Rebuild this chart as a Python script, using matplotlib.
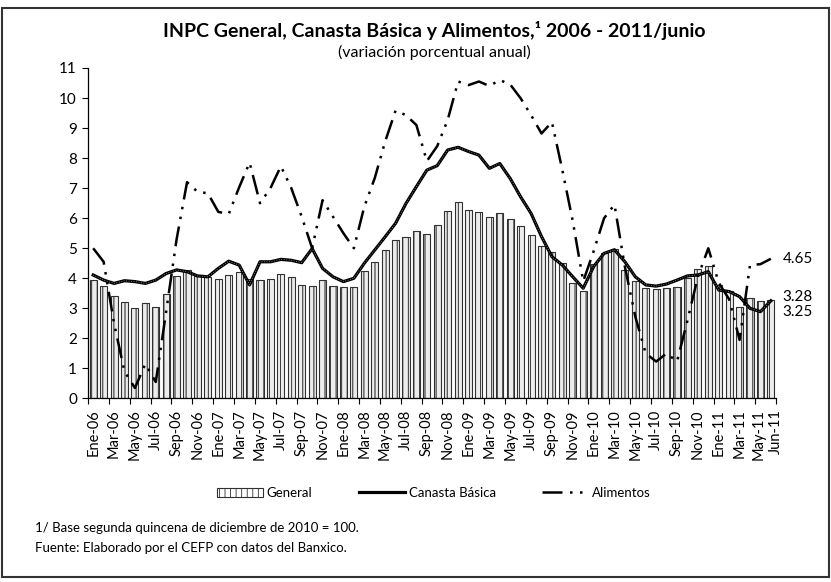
import numpy as np
import matplotlib
matplotlib.use("Agg")
import matplotlib.pyplot as plt
from matplotlib.patches import Rectangle
from matplotlib.transforms import ScaledTranslation

plt.rcParams['font.family'] = ['Lato', 'DejaVu Sans']

# meses Ene-06 .. Jun-11
meses = ["Ene", "Feb", "Mar", "Abr", "May", "Jun", "Jul", "Ago", "Sep", "Oct", "Nov", "Dic"]
etiquetas = [f"{m}-{a:02d}" for a in range(6, 12) for m in meses][:66]

general = [3.94, 3.75, 3.41, 3.20, 3.00, 3.18, 3.06, 3.47, 4.09, 4.29, 4.09, 4.05,
           3.98, 4.11, 4.21, 3.99, 3.95, 3.98, 4.14, 4.03, 3.79, 3.74, 3.93, 3.76,
           3.70, 3.72, 4.25, 4.55, 4.95, 5.26, 5.39, 5.57, 5.47, 5.78, 6.23, 6.53,
           6.28, 6.20, 6.04, 6.17, 5.98, 5.74, 5.44, 5.08, 4.89, 4.50, 3.86, 3.57,
           4.46, 4.83, 4.97, 4.27, 3.92, 3.69, 3.64, 3.68, 3.70, 4.02, 4.32, 4.40,
           3.78, 3.57, 3.04, 3.36, 3.25, 3.28]

canasta = [4.11, 3.94, 3.83, 3.92, 3.89, 3.83, 3.94, 4.16, 4.28, 4.22, 4.08, 4.05,
           4.33, 4.57, 4.44, 3.78, 4.55, 4.55, 4.63, 4.60, 4.52, 4.99, 4.33, 4.05,
           3.89, 4.00, 4.50, 4.94, 5.38, 5.83, 6.49, 7.05, 7.60, 7.75, 8.27, 8.36,
           8.22, 8.10, 7.66, 7.82, 7.32, 6.71, 6.16, 5.39, 4.72, 4.44, 4.05, 3.67,
           4.39, 4.83, 4.95, 4.55, 4.05, 3.78, 3.74, 3.81, 3.94, 4.08, 4.11, 4.22,
           3.61, 3.56, 3.39, 3.00, 2.89, 3.25]

alimentos = [5.00, 4.55, 2.50, 0.90, 0.35, 1.15, 0.55, 2.90, 5.30, 7.20, 6.88, 6.83,
             6.21, 6.14, 7.03, 7.85, 6.50, 7.00, 7.73, 7.00, 6.05, 5.00, 6.60, 6.05,
             5.50, 5.00, 6.38, 7.33, 8.55, 9.58, 9.43, 9.10, 7.90, 8.40, 9.27, 10.55,
             10.43, 10.55, 10.40, 10.60, 10.45, 9.99, 9.43, 8.82, 9.20, 7.60, 5.90, 3.90,
             4.90, 6.00, 6.45, 4.38, 2.72, 1.50, 1.23, 1.50, 1.23, 2.60, 4.05, 5.00,
             3.85, 3.30, 1.95, 4.44, 4.47, 4.65]

x = np.arange(len(general))

fig = plt.figure(figsize=(8.31, 5.82), dpi=100)
ax = fig.add_axes([0.1059, 0.3153, 0.828, 0.5679])

# barras con rayado vertical
plt.rcParams['hatch.linewidth'] = 0.6
ax.bar(x, general, width=0.68, color='#ececec', edgecolor='#8a8a8a', hatch='|||', linewidth=0)
b = ax.bar(x, general, width=0.68, fill=False, edgecolor='#303030', linewidth=0.8, hatch='|||')

l1, = ax.plot(x, canasta, color='black', lw=2.3, solid_joinstyle='round')
ax.plot(x, canasta, color='#9a9a9a', lw=0.6, ls=(0, (1, 2)))
l2, = ax.plot(x, alimentos, color='black', lw=1.8, ls=(0, (8, 3, 1, 3, 1, 3)))

ax.set_xlim(-0.5, len(x) - 0.5)
ax.set_ylim(0, 11)
ax.set_yticks(range(0, 12))
ax.tick_params(axis='y', labelsize=11, length=4, width=0.8, pad=4)

pos = list(range(0, len(x), 2)) + [len(x) - 1]
ax.set_xticks(pos)
ax.set_xticklabels([etiquetas[i] for i in pos], rotation=90, fontsize=10.5)
ax.set_xticks(np.arange(-0.5, len(x), 2), minor=True)
ax.tick_params(axis='x', which='major', length=0, pad=8)
ax.tick_params(axis='x', which='minor', length=4, width=0.8)

# separar May-11 y Jun-11
tl = ax.get_xticklabels()
tl[-2].set_transform(tl[-2].get_transform() + ScaledTranslation(-2 / 100, 0, fig.dpi_scale_trans))
tl[-1].set_transform(tl[-1].get_transform() + ScaledTranslation(5 / 100, 0, fig.dpi_scale_trans))

for s in ['top', 'right']:
    ax.spines[s].set_visible(False)
ax.spines['left'].set_linewidth(0.9)
ax.spines['bottom'].set_linewidth(0.9)

# etiquetas finales
n = len(x) - 1
ax.annotate(f"{alimentos[n]:.2f}", (n, alimentos[n]), xytext=(12, 0), textcoords='offset pixels',
            va='center', ha='left', fontsize=11)
ax.annotate(f"{general[n]:.2f}", (n, general[n]), xytext=(12, 3), textcoords='offset pixels',
            va='center', ha='left', fontsize=11)
ax.annotate(f"{canasta[n]:.2f}", (n, canasta[n]), xytext=(12, -11), textcoords='offset pixels',
            va='center', ha='left', fontsize=11)

fig.text(0.523, 0.948, "INPC General, Canasta Básica y Alimentos,¹ 2006 - 2011/junio",
         ha='center', va='center', fontsize=14, fontweight='bold')
fig.text(0.523, 0.910, "(variación porcentual anual)", ha='center', va='center', fontsize=11.5)

fig.legend([b, l1, l2], ['General', 'Canasta Básica', 'Alimentos'],
           loc='center', bbox_to_anchor=(0.522, 0.153), ncol=3, frameon=False, fontsize=9.5,
           handlelength=3.5, columnspacing=3.5, handletextpad=0.3)

fig.text(0.042, 0.093, "1/ Base segunda quincena de diciembre de 2010 = 100.", fontsize=9.5, va='center')
fig.text(0.042, 0.058, "Fuente: Elaborado por el CEFP con datos del Banxico.", fontsize=9.5, va='center')

fig.patches.append(Rectangle((0.003, 0.008), 0.994, 0.979, transform=fig.transFigure,
                             fill=False, edgecolor='#333333', linewidth=1.5))

fig.savefig("out.png", dpi=100)
